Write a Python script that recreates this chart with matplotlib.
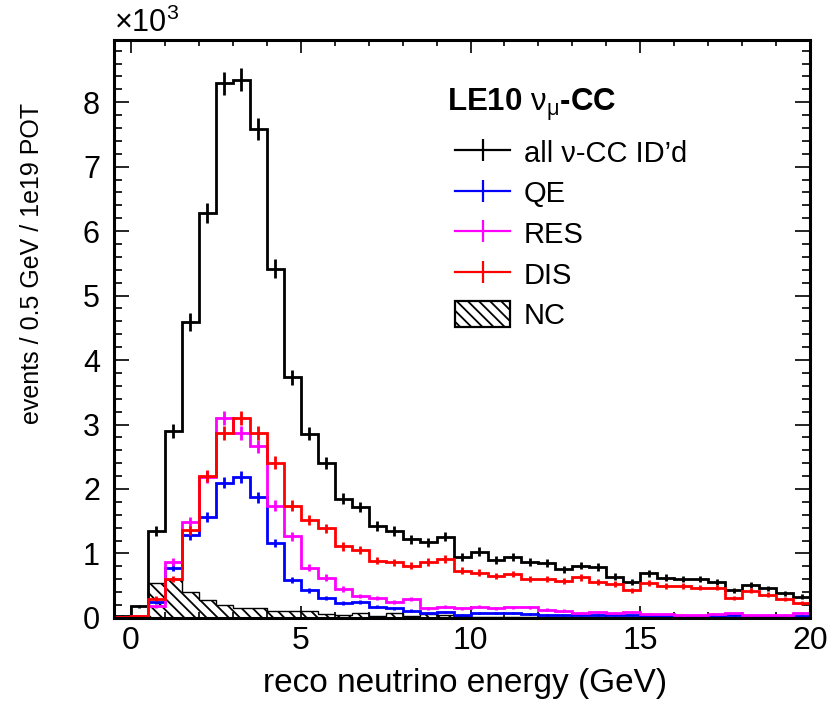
import numpy as np
import matplotlib
matplotlib.use("Agg")
import matplotlib.pyplot as plt
from matplotlib.lines import Line2D
from matplotlib.patches import Patch

plt.rcParams['font.family'] = ['Liberation Sans', 'DejaVu Sans']
plt.rcParams['mathtext.fontset'] = 'custom'
plt.rcParams['mathtext.rm'] = 'Liberation Sans'
plt.rcParams['mathtext.it'] = 'Liberation Sans:italic'
plt.rcParams['hatch.linewidth'] = 1.3

# 0.5 GeV bins from -0.5 to 20 GeV, values in units of 1e3 events
edges = np.arange(-0.5, 20.01, 0.5)

all_cc = [0.03, 0.18, 1.35, 2.90, 4.59, 6.28, 8.29, 8.35, 7.59, 5.42,
          3.73, 2.86, 2.40, 1.85, 1.72, 1.43, 1.35, 1.22, 1.17, 1.26,
          0.95, 1.03, 0.90, 0.94, 0.87, 0.85, 0.755, 0.81, 0.79, 0.64,
          0.56, 0.69, 0.625, 0.60, 0.60, 0.56, 0.43, 0.51, 0.46, 0.38,
          0.33]
qe = [0.00, 0.02, 0.25, 0.78, 1.28, 1.57, 2.10, 2.18, 1.87, 1.16,
      0.59, 0.43, 0.305, 0.23, 0.25, 0.175, 0.15, 0.11, 0.08, 0.09,
      0.05, 0.07, 0.07, 0.07, 0.06, 0.05, 0.04, 0.04, 0.05, 0.04,
      0.04, 0.03, 0.03, 0.03, 0.03, 0.03, 0.04, 0.03, 0.03, 0.03,
      0.03]
res = [0.01, 0.03, 0.18, 0.87, 1.49, 2.18, 3.10, 2.87, 2.66, 1.74,
       1.27, 0.78, 0.625, 0.45, 0.34, 0.31, 0.25, 0.29, 0.15, 0.175,
       0.15, 0.175, 0.15, 0.165, 0.165, 0.13, 0.11, 0.08, 0.09, 0.08,
       0.09, 0.06, 0.06, 0.05, 0.05, 0.06, 0.08, 0.05, 0.05, 0.05,
       0.08]
dis = [0.01, 0.03, 0.30, 0.60, 1.36, 2.20, 2.87, 3.10, 2.87, 2.41,
       1.74, 1.52, 1.39, 1.11, 1.05, 0.89, 0.86, 0.81, 0.87, 0.91,
       0.73, 0.70, 0.65, 0.68, 0.60, 0.60, 0.57, 0.63, 0.56, 0.53,
       0.43, 0.54, 0.50, 0.50, 0.47, 0.47, 0.31, 0.42, 0.36, 0.29,
       0.23]
nc = [0.00, 0.01, 0.54, 0.60, 0.40, 0.28, 0.20, 0.15, 0.16, 0.10,
      0.10, 0.11, 0.06, 0.05, 0.07, 0.03, 0.08, 0.03, 0.06, 0.05,
      0.03, 0.02, 0.02, 0.02, 0.02, 0.02, 0.02, 0.02, 0.02, 0.02,
      0.02, 0.01, 0.01, 0.01, 0.01, 0.01, 0.01, 0.01, 0.01, 0.01,
      0.01]

err_scale = 0.0625  # error bar size relative to sqrt of content

fig = plt.figure(figsize=(8.31, 7.07), dpi=100)
ax = fig.add_axes([0.137, 0.126, 0.838, 0.817])

centers = 0.5 * (edges[:-1] + edges[1:])

ax.stairs(nc, edges, fill=True, facecolor='none', edgecolor='black',
          hatch='\\\\\\', lw=1.0, zorder=1)

series = [(all_cc, 'black'), (qe, '#0000ff'), (res, '#ff00ff'), (dis, '#ff0000')]
for vals, col in series:
    vals = np.array(vals)
    ax.stairs(vals, edges, color=col, lw=2.0, zorder=2)
    ax.errorbar(centers, vals, yerr=err_scale * np.sqrt(vals), fmt='none',
                ecolor=col, elinewidth=2.0, capsize=0, zorder=2)

ax.set_xlim(-0.5, 20)
ax.set_ylim(0, 8.96)
ax.set_xticks([0, 5, 10, 15, 20])
ax.set_xticks(np.arange(0, 20.1, 1), minor=True)
ax.set_yticks(np.arange(0, 8.1, 1))
ax.set_yticks(np.arange(0, 8.95, 0.2), minor=True)
ax.tick_params(which='both', direction='in', top=True, right=True)
ax.tick_params(axis='x', which='major', length=9, width=1.2, pad=6, labelsize=23)
ax.tick_params(axis='x', which='minor', length=4.5, width=1.2)
ax.tick_params(axis='y', which='major', length=11, width=1.2, pad=10, labelsize=22)
ax.tick_params(axis='y', which='minor', length=5.5, width=1.2)
for s in ax.spines.values():
    s.set_linewidth(2.2)

ax.set_xlabel('reco neutrino energy (GeV)', fontsize=24)
ax.xaxis.set_label_coords(0.504, -0.087)
ax.set_ylabel('events / 0.5 GeV / 1e19 POT', fontsize=18)
ax.yaxis.set_label_coords(-0.1, 0.614)
ax.text(0.0, 1.002, r'×10$^{3}$', transform=ax.transAxes, fontsize=22,
        ha='left', va='bottom')

ax.text(0.478, 0.889, 'LE10 $\\mathrm{ν}_{\\mathrm{μ}}$-CC', transform=ax.transAxes,
        fontsize=22.5, fontweight='bold', ha='left', va='center')

handles = [Line2D([], [], color='black', lw=1.6, marker='|', markersize=16, mew=1.6),
           Line2D([], [], color='#0000ff', lw=1.6, marker='|', markersize=16, mew=1.6),
           Line2D([], [], color='#ff00ff', lw=1.6, marker='|', markersize=16, mew=1.6),
           Line2D([], [], color='#ff0000', lw=1.6, marker='|', markersize=16, mew=1.6),
           Patch(facecolor='none', edgecolor='black', hatch='\\\\\\', lw=1.6)]
labels = ['all ν-CC ID’d', 'QE', 'RES', 'DIS', 'NC']
leg = ax.legend(handles, labels, loc='upper left', bbox_to_anchor=(0.49, 0.83),
                frameon=False, fontsize=21, handlelength=1.9, handleheight=1.0,
                handletextpad=0.45, labelspacing=0.40, borderpad=0, borderaxespad=0)

fig.savefig('out.png', dpi=100)
